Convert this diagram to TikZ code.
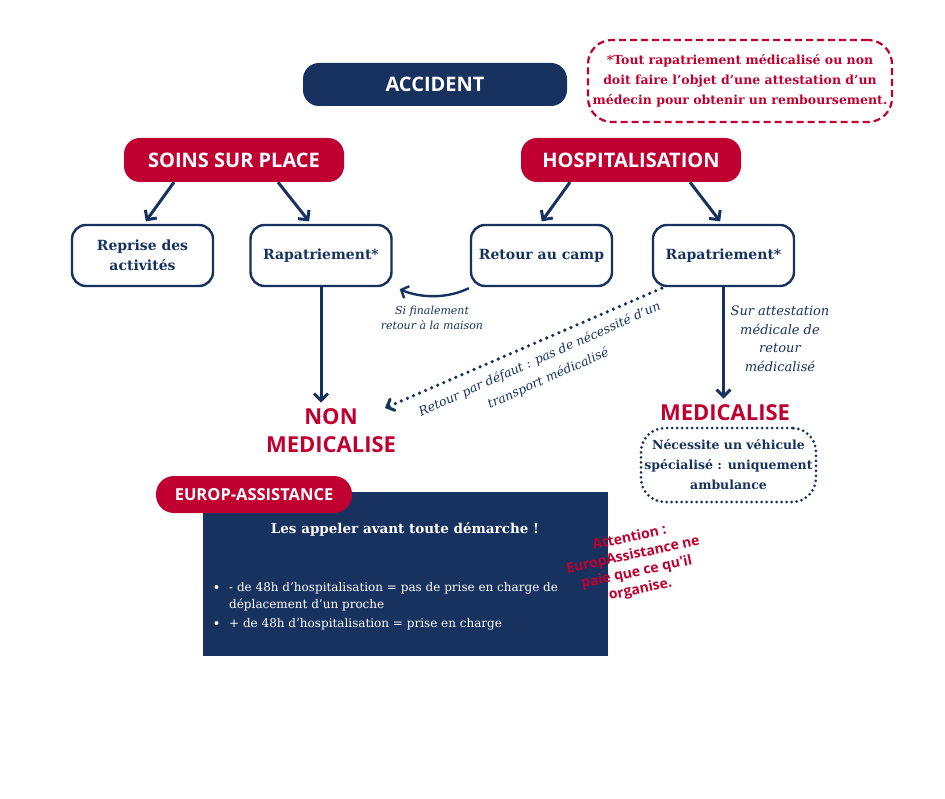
\documentclass[tikz,border=0pt]{standalone}
\usepackage{fontspec}
\setmainfont{DejaVu Serif}
\newfontfamily\sansb{Open Sans}[BoldFont={Open Sans Bold}]
\usetikzlibrary{arrows.meta}
\definecolor{navy}{HTML}{17325F}
\definecolor{rouge}{HTML}{BF0030}
\newcommand{\fs}[2]{\fontsize{#1}{#2}\selectfont}
\tikzset{
  pill/.style={rectangle, rounded corners=16pt, text=white, font=\sansb\bfseries\fs{20}{22}, inner sep=0pt},
  whitebox/.style={rectangle, rounded corners=14pt, draw=navy, line width=2.4pt, fill=white, text=navy,
     font=\bfseries\fs{14}{20}, align=center, minimum width=141pt, minimum height=61pt, inner sep=0pt},
  arr/.style={draw=navy, line width=3pt, -{Straight Barb[length=7pt,width=14pt,line width=3pt]}},
  dotarr/.style={draw=navy, line width=3.6pt, line cap=round, dash pattern=on 0pt off 6.6pt,
     -{Straight Barb[length=6pt,width=12pt,line width=3pt,line cap=round]}},
  lab/.style={text=navy, font=\itshape\fs{11}{15}, align=center, inner sep=0pt},
  redtitle/.style={text=rouge, font=\sansb\bfseries\fs{22}{28}, align=center, inner sep=0pt},
  bullettext/.style={text=white, font=\fs{12}{17}, anchor=base west, inner sep=0pt},
  bulletdot/.style={circle, fill=white, inner sep=0pt, minimum size=4pt},
}
\begin{document}
\begin{tikzpicture}[x=1pt,y=-1pt]
\path[use as bounding box, fill=white] (0,0) rectangle (945,799);

% top
\node[pill, fill=navy, minimum width=264pt, minimum height=43pt] (acc) at (435,84.5) {ACCIDENT};
\node[rectangle, rounded corners=24pt, draw=rouge, line width=2.2pt, dash pattern=on 7pt off 4pt,
  minimum width=304pt, minimum height=82pt, text=rouge, font=\bfseries\fs{12.5}{20}, align=center, inner sep=0pt]
  (note) at (740,81) {*Tout rapatriement médicalisé ou non\\doit faire l'objet d'une attestation d'un\\médecin pour obtenir un remboursement.};

\node[pill, fill=rouge, minimum width=220pt, minimum height=44pt] (soins) at (234,160) {SOINS SUR PLACE};
\node[pill, fill=rouge, minimum width=220pt, minimum height=44pt] (hosp) at (631,160) {HOSPITALISATION};

\node[whitebox] (reprise) at (142.5,255.5) {Reprise des\\activités};
\node[whitebox] (rapaL) at (321,255.5) {Rapatriement*};
\node[whitebox] (retour) at (541.5,255.5) {Retour au camp};
\node[whitebox] (rapaR) at (723.5,255.5) {Rapatriement*};

\draw[arr, shorten >=3pt] ([xshift=-60pt]soins.south) -- ([xshift=1.5pt]reprise.north);
\draw[arr, shorten >=3pt] ([xshift=44pt]soins.south) -- ([xshift=-10pt]rapaL.north);
\draw[arr, shorten >=3pt] ([xshift=-61pt]hosp.south) -- ([xshift=-1.5pt]retour.north);
\draw[arr, shorten >=3pt] ([xshift=59pt]hosp.south) -- ([xshift=-1.5pt]rapaR.north);

% non medicalise
\node[redtitle, inner ysep=6pt] (nonmed) at (331,431) {NON\\MEDICALISE};
\draw[arr] (rapaL.south) -- (rapaL.south |- nonmed.north);

% curved arrow
\draw[draw=navy, line width=2.4pt, -{Straight Barb[length=6pt,width=13pt,line width=2.4pt]}]
  ([shift={(-1pt,-1pt)}]retour.south west) .. controls (447,299) and (420,298) .. ([shift={(7pt,-2pt)}]rapaL.south east);
\node[lab] (si) at (432,317.5) {Si finalement\\retour à la maison};

% dotted arrow
\coordinate (dotend) at (385,408);
\draw[dotarr] ([shift={(10pt,-1pt)}]rapaR.south west) -- (dotend);
\node[text=navy, font=\itshape\fs{12.5}{21}, align=center, inner sep=0pt, rotate=24] (defaut) at (544,369)
  {Retour par défaut : pas de nécessité d'un\\transport médicalisé};

% medicalise
\node[redtitle, inner ysep=6pt] (med) at (725,413) {MEDICALISE};
\draw[arr] (rapaR.south) -- (rapaR.south |- med.north);
\node[lab, font=\itshape\fs{13}{18.5}] (sur) at (780,339) {Sur attestation\\médicale de\\retour\\médicalisé};

\node[rectangle, rounded corners=24pt, draw=navy, line width=3pt, line cap=round, dash pattern=on 0pt off 5pt,
  minimum width=175pt, minimum height=74pt, text=navy, font=\bfseries\fs{12.5}{20}, align=center, inner sep=0pt]
  (vehic) at (728.5,465) {Nécessite un véhicule\\spécialisé : uniquement\\ambulance};

% europ assistance
\node[rectangle, fill=navy, minimum width=405pt, minimum height=164pt, inner sep=0pt] (panel) at (405.5,574) {};
\node[pill, fill=rouge, rounded corners=18pt, minimum width=196pt, minimum height=37pt, font=\sansb\bfseries\fs{16.5}{20}]
  (europ) at (254,494.5) {EUROP-ASSISTANCE};
\node[text=white, font=\bfseries\fs{13.5}{18}, inner sep=0pt] (appel) at (405,530) {Les appeler avant toute démarche !};
\node[bullettext] (b1) at (229,591) {- de 48h d'hospitalisation = pas de prise en charge de};
\node[bullettext] (b2) at (229,608.5) {déplacement d'un proche};
\node[bullettext] (b3) at (229,627) {+ de 48h d'hospitalisation = prise en charge};
\node[bulletdot] (dot1) at (216.5,587) {};
\node[bulletdot] (dot2) at (216.5,623) {};

\node[text=rouge, font=\sansb\bfseries\fs{14}{17.5}, align=center, inner sep=0pt, rotate=12] (attn) at (635,564)
  {Attention :\\EuropAssistance ne\\paie que ce qu'il\\organise.};
\end{tikzpicture}
\end{document}
